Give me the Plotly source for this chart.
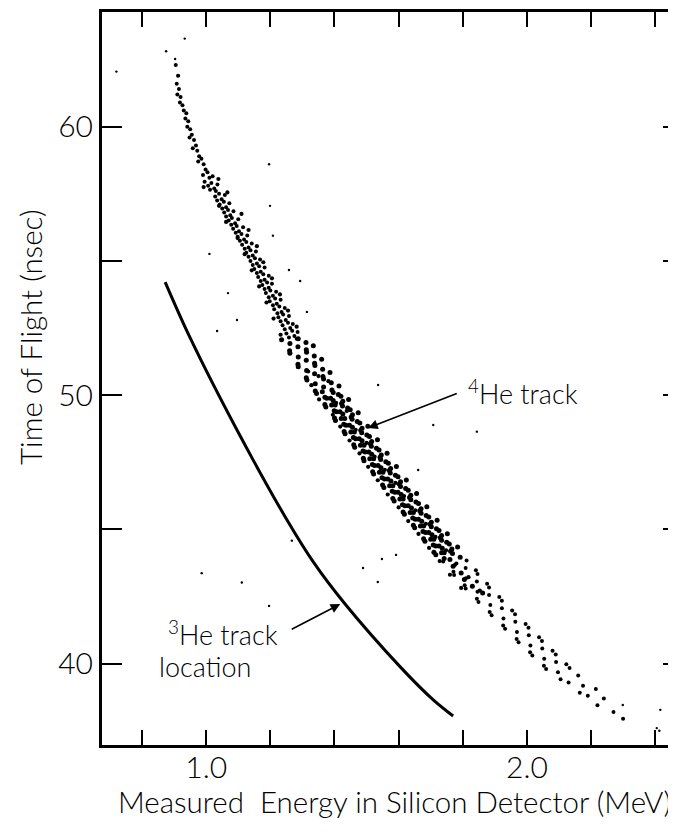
import plotly.graph_objects as go

# ---------------- data ----------------
# x ticks (MeV) and y ticks (nsec)
x_major_vals = [1.0, 2.0]
x_major_text = ["1.0", "2.0"]
x_minor_vals = [0.8, 1.2, 1.4, 1.6, 1.8, 2.2, 2.4]
x_all_vals = [0.8, 1.0, 1.2, 1.4, 1.6, 1.8, 2.0, 2.2, 2.4]
y_major_vals = [40, 50, 60]
y_major_text = ["40", "50", "60"]
y_minor_vals = [45, 55]
y_all_vals = [40, 45, 50, 55, 60]

# 3He track location (solid curve)
he3_E = [0.872, 0.950, 1.096, 1.252, 1.336, 1.433, 1.605, 1.708, 1.770]
he3_T = [54.21, 52.13, 48.70, 45.35, 43.75, 42.22, 39.88, 38.65, 38.05]

# 4He track events: upper part of the band
he4_upper = [
    (0.905, 62.3), (0.912, 61.9), (0.908, 61.6), (0.915, 61.4), (0.910, 61.2), (0.920, 61.1),
    (0.918, 60.9), (0.926, 60.8), (0.930, 60.6), (0.938, 60.5), (0.935, 60.3), (0.944, 60.2),
    (0.941, 60.0), (0.950, 59.9), (0.955, 59.7), (0.948, 59.6), (0.962, 59.5), (0.968, 59.3),
    (0.958, 59.2), (0.972, 59.1), (0.978, 58.9), (0.985, 58.8), (0.975, 58.7), (0.992, 58.6),
    (0.998, 58.4), (1.004, 58.3), (0.990, 58.2), (1.010, 58.1), (1.016, 57.9), (1.006, 57.8),
    (1.025, 57.7), (1.030, 57.6), (1.040, 57.5), (1.028, 57.4), (1.048, 57.3), (1.055, 57.2),
    (1.042, 57.1), (1.062, 57.0), (1.068, 56.9), (1.056, 56.8), (1.075, 56.7), (1.080, 56.6),
    (1.070, 56.5), (1.090, 56.4), (1.095, 56.3), (1.084, 56.2), (1.102, 56.1), (1.110, 56.0),
    (1.098, 55.9), (1.118, 55.8), (1.125, 55.7), (1.112, 55.6), (1.132, 55.5), (1.138, 55.4),
    (1.125, 55.3), (1.145, 55.2), (1.152, 55.1), (1.138, 55.0), (1.158, 54.9), (1.165, 54.8),
    (1.150, 54.7), (1.170, 54.6), (1.178, 54.5), (1.162, 54.4), (1.182, 54.3), (1.190, 54.2),
    (1.175, 54.1), (1.195, 54.0), (1.200, 53.9), (1.186, 53.8), (1.208, 53.7), (1.215, 53.6),
    (1.198, 53.5), (1.220, 53.4), (1.228, 53.3), (1.212, 53.2), (1.235, 53.1), (1.240, 53.0),
    (1.225, 52.9), (1.248, 52.8), (1.255, 52.7), (1.238, 52.6), (1.262, 52.5), (1.268, 52.4),
    (1.250, 52.3), (1.275, 52.2), (1.282, 52.1),
    (1.020, 58.15), (0.995, 57.95), (1.035, 57.85), (1.012, 57.65), (1.058, 57.45), (1.034, 57.25),
    (1.072, 57.15), (1.050, 56.95), (1.085, 56.85), (1.062, 56.65), (1.100, 56.55), (1.078, 56.35),
    (1.115, 56.25), (1.092, 56.05), (1.128, 55.95), (1.105, 55.75), (1.142, 55.65), (1.120, 55.45),
    (1.155, 55.35), (1.132, 55.15), (1.168, 55.05), (1.145, 54.85), (1.182, 54.75), (1.158, 54.55),
    (1.195, 54.45), (1.170, 54.25), (1.205, 54.15), (1.182, 53.95), (1.218, 53.85), (1.195, 53.65),
    (1.232, 53.55), (1.208, 53.35), (1.245, 53.25), (1.222, 53.05), (1.258, 52.95), (1.232, 52.75),
    (1.270, 52.65), (1.245, 52.45), (1.285, 52.35), (1.258, 52.15),
]

# 4He track events: dense middle part of the band
he4_middle = [
    (1.235, 52.06), (1.261, 51.92), (1.287, 52.10), (1.311, 51.96),
    (1.260, 51.65), (1.286, 51.80), (1.312, 51.69), (1.334, 51.84),
    (1.261, 51.56), (1.287, 51.42), (1.313, 51.60), (1.337, 51.46),
    (1.286, 51.15), (1.312, 51.30), (1.338, 51.19), (1.360, 51.34),
    (1.287, 51.06), (1.313, 50.92), (1.339, 51.10), (1.363, 50.96),
    (1.312, 50.65), (1.338, 50.80), (1.364, 50.69), (1.386, 50.84),
    (1.314, 50.56), (1.340, 50.42), (1.366, 50.60), (1.390, 50.46),
    (1.340, 50.15), (1.366, 50.30), (1.392, 50.19), (1.414, 50.34),
    (1.344, 50.06), (1.370, 49.92), (1.396, 50.10), (1.420, 49.96),
    (1.370, 49.65), (1.396, 49.80), (1.422, 49.69), (1.444, 49.84),
    (1.373, 49.56), (1.399, 49.42), (1.425, 49.60), (1.449, 49.46),
    (1.400, 49.15), (1.426, 49.30), (1.452, 49.19), (1.474, 49.34),
    (1.403, 49.06), (1.429, 48.92), (1.455, 49.10), (1.479, 48.96),
    (1.430, 48.65), (1.456, 48.80), (1.482, 48.69), (1.504, 48.84),
    (1.433, 48.56), (1.459, 48.42), (1.485, 48.60), (1.509, 48.46),
    (1.460, 48.15), (1.486, 48.30), (1.512, 48.19), (1.534, 48.34),
    (1.463, 48.06), (1.489, 47.92), (1.515, 48.10), (1.539, 47.96),
    (1.490, 47.65), (1.516, 47.80), (1.542, 47.69), (1.564, 47.84),
    (1.492, 47.56), (1.518, 47.42), (1.544, 47.60), (1.568, 47.46),
    (1.519, 47.15), (1.545, 47.30), (1.571, 47.19), (1.593, 47.34),
    (1.522, 47.06), (1.548, 46.92), (1.574, 47.10), (1.598, 46.96),
    (1.550, 46.65), (1.576, 46.80), (1.602, 46.69), (1.624, 46.84),
    (1.554, 46.56), (1.580, 46.42), (1.606, 46.60), (1.630, 46.46),
    (1.582, 46.15), (1.608, 46.30), (1.634, 46.19), (1.656, 46.34),
    (1.586, 46.06), (1.612, 45.92), (1.638, 46.10), (1.662, 45.96),
    (1.614, 45.65), (1.640, 45.80), (1.666, 45.69), (1.688, 45.84),
    (1.618, 45.56), (1.644, 45.42), (1.670, 45.60), (1.694, 45.46),
    (1.646, 45.15), (1.672, 45.30), (1.698, 45.19), (1.720, 45.34),
    (1.650, 45.06), (1.676, 44.92), (1.702, 45.10), (1.726, 44.96),
    (1.678, 44.65), (1.704, 44.80), (1.730, 44.69), (1.752, 44.84),
    (1.682, 44.56), (1.708, 44.42), (1.734, 44.60), (1.758, 44.46),
    (1.710, 44.15), (1.736, 44.30), (1.762, 44.19), (1.784, 44.34),
    (1.716, 44.06), (1.742, 43.92), (1.768, 44.10), (1.792, 43.96),
    (1.362, 50.13), (1.388, 49.88), (1.412, 50.02),
    (1.376, 49.88), (1.402, 49.63), (1.426, 49.77),
    (1.391, 49.63), (1.417, 49.38), (1.441, 49.52),
    (1.406, 49.38), (1.432, 49.13), (1.456, 49.27),
    (1.421, 49.13), (1.447, 48.88), (1.471, 49.02),
    (1.436, 48.88), (1.462, 48.63), (1.486, 48.77),
    (1.451, 48.63), (1.477, 48.38), (1.501, 48.52),
    (1.466, 48.38), (1.492, 48.13), (1.516, 48.27),
    (1.481, 48.13), (1.507, 47.88), (1.531, 48.02),
    (1.496, 47.88), (1.522, 47.63), (1.546, 47.77),
    (1.510, 47.63), (1.536, 47.38), (1.560, 47.52),
    (1.525, 47.38), (1.551, 47.13), (1.575, 47.27),
    (1.540, 47.13), (1.566, 46.88), (1.590, 47.02),
    (1.556, 46.88), (1.582, 46.63), (1.606, 46.77),
    (1.572, 46.63), (1.598, 46.38), (1.622, 46.52),
    (1.588, 46.38), (1.614, 46.13), (1.638, 46.27),
    (1.604, 46.13), (1.630, 45.88), (1.654, 46.02),
    (1.620, 45.88), (1.646, 45.63), (1.670, 45.77),
    (1.636, 45.63), (1.662, 45.38), (1.686, 45.52),
    (1.652, 45.38), (1.678, 45.13), (1.702, 45.27),
    (1.668, 45.13), (1.694, 44.88), (1.718, 45.02),
    (1.684, 44.88), (1.710, 44.63), (1.734, 44.77),
    (1.700, 44.63), (1.726, 44.38), (1.750, 44.52),
    (1.716, 44.38), (1.742, 44.13), (1.766, 44.27),
    (1.734, 44.13), (1.760, 43.88), (1.770, 43.63), (1.795, 43.38),
    (1.805, 43.13), (1.830, 42.88), (1.862, 42.63),
]

# 4He track events: extra, irregularly placed events that fill the band
he4_extra = [
    (1.038, 58.05), (0.992, 57.75), (1.066, 57.55), (1.040, 57.05), (1.110, 56.75),
    (1.062, 56.45), (1.132, 56.15), (1.098, 55.85), (1.158, 55.55), (1.120, 55.25),
    (1.178, 54.95), (1.142, 54.65), (1.205, 54.35), (1.165, 54.05), (1.230, 53.75),
    (1.188, 53.45), (1.255, 53.15), (1.210, 52.85), (1.282, 52.55), (1.232, 52.25),
    (1.318, 50.88), (1.350, 50.71), (1.328, 50.37), (1.381, 50.52), (1.352, 49.84),
    (1.405, 49.71), (1.395, 49.27), (1.438, 49.41), (1.418, 48.83), (1.466, 48.71),
    (1.447, 48.31), (1.500, 48.22), (1.478, 47.83), (1.525, 47.71), (1.505, 47.33),
    (1.557, 47.22), (1.535, 46.83), (1.590, 46.73), (1.566, 46.30), (1.617, 46.24),
    (1.600, 45.82), (1.652, 45.71), (1.630, 45.31), (1.685, 45.21), (1.662, 44.83),
    (1.715, 44.72), (1.695, 44.31), (1.748, 44.22), (1.728, 43.82), (1.780, 43.73),
    (1.760, 43.31), (1.818, 43.22), (1.795, 42.82), (1.853, 42.72),
]

# 4He track events: lower, sparser part of the band
he4_lower = [
    (1.739, 43.80), (1.776, 43.68), (1.812, 43.84),
    (1.771, 43.42), (1.809, 43.56), (1.841, 43.48),
    (1.773, 43.30), (1.810, 43.18), (1.846, 43.34),
    (1.806, 42.92), (1.844, 43.06), (1.876, 42.98),
    (1.809, 42.80), (1.846, 42.68), (1.882, 42.84),
    (1.844, 42.42), (1.882, 42.56), (1.914, 42.48),
    (1.849, 42.30), (1.886, 42.18), (1.922, 42.34),
    (1.884, 41.92), (1.922, 42.06), (1.954, 41.98),
    (1.890, 41.80), (1.927, 41.68), (1.963, 41.84),
    (1.926, 41.42), (1.964, 41.56), (1.996, 41.48),
    (1.932, 41.30), (1.969, 41.18), (2.005, 41.34),
    (1.968, 40.92), (2.006, 41.06), (2.038, 40.98),
    (1.974, 40.80), (2.011, 40.68), (2.047, 40.84),
    (2.010, 40.42), (2.048, 40.56), (2.080, 40.48),
    (2.017, 40.30), (2.054, 40.18), (2.090, 40.34),
    (2.053, 39.92), (2.091, 40.06), (2.123, 39.98),
    (2.060, 39.80), (2.097, 39.68), (2.133, 39.84),
    (2.105, 39.42), (2.160, 39.56),
    (2.130, 39.30), (2.175, 39.18),
    (2.165, 38.92), (2.215, 39.06),
    (2.190, 38.80), (2.240, 38.70),
    (2.220, 38.45), (2.270, 38.20), (2.300, 37.95),
]

# isolated background events
stray_events = [
    (1.196, 58.6), (1.199, 57.05), (1.208, 55.94), (1.010, 55.26), (1.258, 54.66),
    (1.293, 54.25), (1.068, 53.8), (1.096, 52.8), (1.034, 52.39), (1.314, 53.1),
    (1.844, 48.64), (1.536, 50.38), (1.708, 48.89), (1.661, 47.21), (0.986, 43.37),
    (1.111, 43.02), (1.196, 42.15), (1.267, 44.58), (1.548, 43.9), (1.592, 44.05),
    (1.535, 43.04), (1.489, 43.56), (2.299, 38.46), (2.405, 37.6), (2.416, 38.28),
    (0.933, 63.28), (0.875, 62.81), (0.903, 62.52), (0.915, 61.9), (0.720, 62.05),
    (2.413, 37.5),
]

# ---------------- figure ----------------
FONT = "Lato"

fig = go.Figure()
for pts, sz in ((he4_upper, 4.0), (he4_middle, 5.0), (he4_extra, 4.2),
                (he4_lower, 4.0), (stray_events, 2.4)):
    fig.add_trace(go.Scatter(
        x=[p[0] for p in pts], y=[p[1] for p in pts], mode="markers",
        marker=dict(color="black", size=sz, symbol="circle", line=dict(width=0)),
        showlegend=False, hoverinfo="skip"))
fig.add_trace(go.Scatter(
    x=he3_E, y=he3_T, mode="lines", line=dict(color="black", width=3, shape="spline"),
    showlegend=False, hoverinfo="skip"))
# empty trace to register the mirrored top/right axes
fig.add_trace(go.Scatter(x=[], y=[], xaxis="x2", yaxis="y2", showlegend=False))

xr = [0.675, 2.465]
yr = [36.97, 64.27]

tick_style = dict(ticks="inside", tickwidth=2, tickcolor="black")

# the page body has an 8px margin, so the figure is 8px smaller than the window
fig.update_layout(
    width=668, height=824,
    margin=dict(l=94, r=0, t=4, b=87),
    paper_bgcolor="white", plot_bgcolor="white",
    font=dict(family=FONT, color="black", weight=300),
    xaxis=dict(range=xr, tickvals=x_major_vals, ticktext=x_major_text,
               ticklen=15, **tick_style,
               minor=dict(tickvals=x_minor_vals, ticklen=15, **tick_style),
               showline=True, linewidth=3, linecolor="black",
               showgrid=False, zeroline=False,
               tickfont=dict(size=30, family=FONT, weight=300),
               ticklabelstandoff=-6),
    yaxis=dict(range=yr, tickvals=y_major_vals, ticktext=y_major_text,
               ticklen=20, **tick_style,
               minor=dict(tickvals=y_minor_vals, ticklen=20, **tick_style),
               showline=True, linewidth=3, linecolor="black",
               showgrid=False, zeroline=False,
               tickfont=dict(size=30, family=FONT, weight=300),
               ticklabelstandoff=0),
    xaxis2=dict(range=xr, overlaying="x", side="top", matches="x",
                tickvals=x_all_vals, showticklabels=False,
                ticklen=15, **tick_style,
                showline=True, linewidth=3, linecolor="black",
                showgrid=False, zeroline=False),
    yaxis2=dict(range=yr, overlaying="y", side="right", matches="y",
                tickvals=y_all_vals, showticklabels=False,
                ticklen=13, **tick_style,
                showline=False, showgrid=False, zeroline=False),
)

ann_font = dict(family=FONT, size=27, color="black", weight=300)
fig.add_annotation(x=1.505, y=48.78, ax=1.786, ay=50.08, xref="x", yref="y",
                   axref="x", ayref="y", text="", showarrow=True,
                   arrowhead=2, arrowsize=1.2, arrowwidth=1.6, arrowcolor="black")
fig.add_annotation(x=1.810, y=50.12, xref="x", yref="y", text="<sup>4</sup>He track",
                   showarrow=False, xanchor="left", yanchor="middle", font=ann_font)
fig.add_annotation(x=1.418, y=42.22, ax=1.262, ay=41.25, xref="x", yref="y",
                   axref="x", ayref="y", text="", showarrow=True,
                   arrowhead=2, arrowsize=1.2, arrowwidth=1.6, arrowcolor="black")
fig.add_annotation(x=0.876, y=41.14, xref="x", yref="y", text="<sup>3</sup>He track",
                   showarrow=False, xanchor="left", yanchor="middle", font=ann_font)
fig.add_annotation(x=0.848, y=39.91, xref="x", yref="y", text="location",
                   showarrow=False, xanchor="left", yanchor="middle", font=ann_font)

# axis titles
fig.add_annotation(x=0.510, y=-0.077, xref="paper", yref="paper",
                   text="Measured\u00a0 Energy in Silicon Detector (MeV)",
                   showarrow=False, xanchor="center", yanchor="middle",
                   font=dict(family=FONT, size=29.5, color="black", weight=300))
fig.add_annotation(x=-0.125, y=0.557, xref="paper", yref="paper",
                   text="Time of Flight (nsec)", textangle=-90,
                   showarrow=False, xanchor="center", yanchor="middle",
                   font=dict(family=FONT, size=29.5, color="black", weight=300))

fig.write_html("out.html")
